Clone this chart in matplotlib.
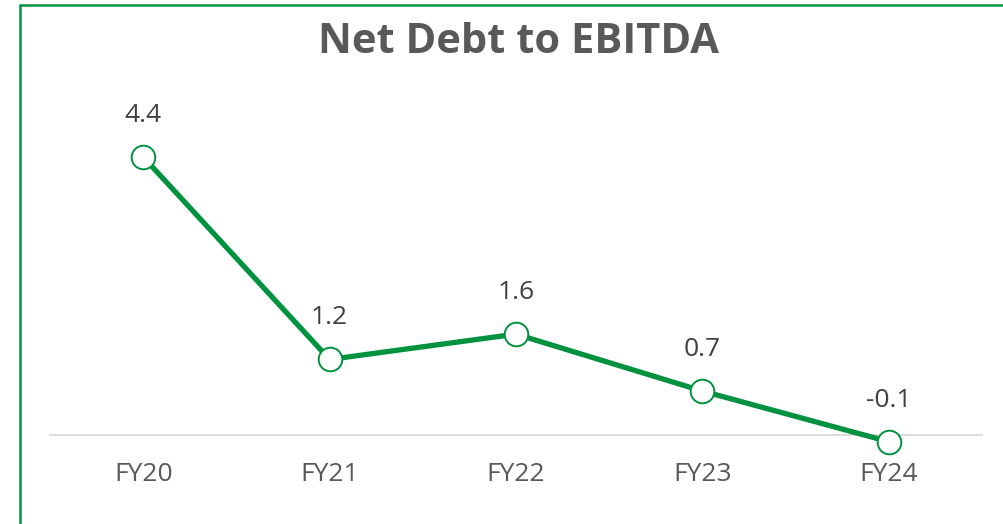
import matplotlib.pyplot as plt
from matplotlib.patches import Rectangle

years = ['FY20', 'FY21', 'FY22', 'FY23', 'FY24']
ratio = [4.4, 1.2, 1.6, 0.7, -0.1]

green = '#00923F'
gray = '#595959'

plt.rcParams['font.family'] = ['Open Sans', 'DejaVu Sans']

fig = plt.figure(figsize=[10.04, 5.24], dpi=100)
# axes box in pixels: x 50..982, y(-0.5)=467, y(5)=119
W, H = 1004.0, 524.0
ax = fig.add_axes([50 / W, (H - 467) / H, 932 / W, 348 / H])

x = list(range(len(years)))
ax.plot(x, ratio, color=green, lw=3.8, marker='o', markersize=17,
        markerfacecolor='white', markeredgecolor=green, markeredgewidth=1.4,
        solid_capstyle='round', zorder=3, clip_on=False)

for xi, v in zip(x, ratio):
    ax.annotate('%.1f' % v, (xi, v), xytext=(0, 30), textcoords='offset points',
                ha='center', va='center', fontsize=19, color='#404040')

ax.set_xlim(-0.5, 4.5)
ax.set_ylim(-0.5, 5.0)
for s in ['top', 'right', 'left']:
    ax.spines[s].set_visible(False)
ax.spines['bottom'].set_position(('data', 0))
ax.spines['bottom'].set_color('#D9D9D9')
ax.spines['bottom'].set_linewidth(1.3)
ax.set_yticks([])
ax.set_xticks(x)
ax.set_xticklabels(years, fontsize=19, color=gray)
ax.tick_params(axis='x', length=0, pad=19)

fig.text(519 / W, 1 - 43 / H, 'Net Debt to EBITDA', ha='center', va='center',
         fontsize=30, fontweight='bold', color=gray)

# chart border (right and bottom edges fall outside the picture)
fig.patches.append(Rectangle((20 / W, -0.1), 1.2, 1 - 5 / H + 0.1,
                             transform=fig.transFigure, fill=False,
                             edgecolor=green, lw=1.8))

fig.savefig('out.png', dpi=100)
